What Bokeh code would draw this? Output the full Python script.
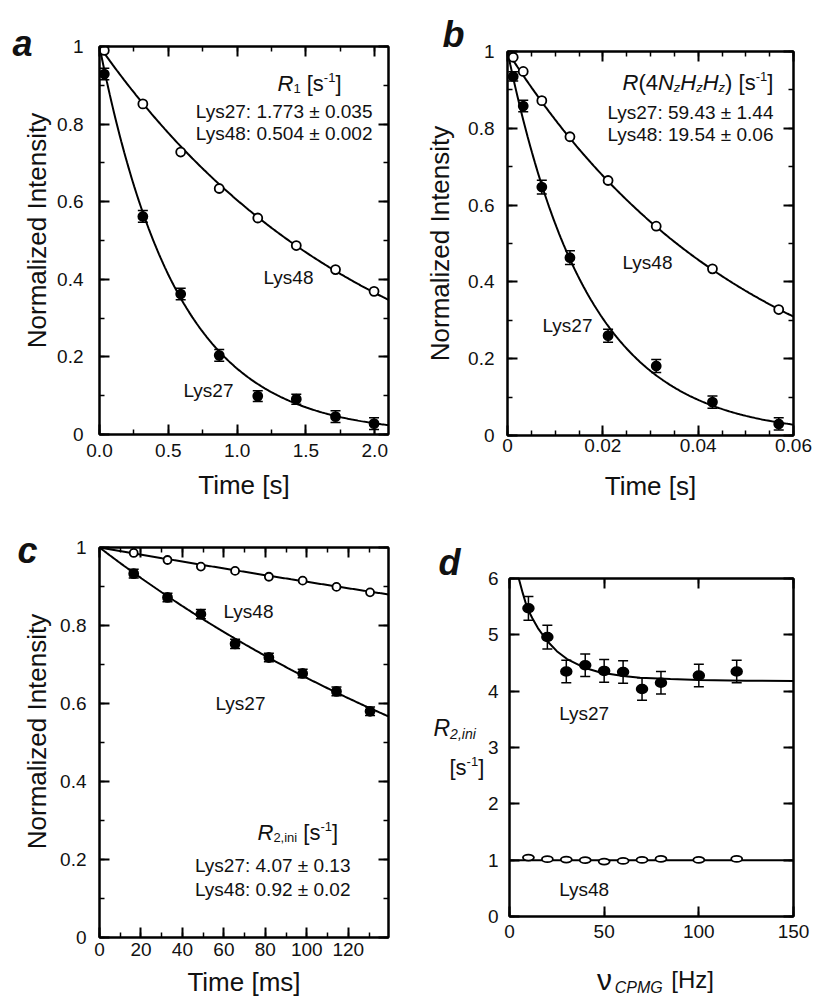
import math
import numpy as np
from bokeh.plotting import figure
from bokeh.layouts import column, row
from bokeh.models import (Range1d, LinearAxis, SingleIntervalTicker, CustomJSTickFormatter,
                          Label, Whisker, TeeHead, ColumnDataSource, Title,
                          CustomLabelingPolicy)
from bokeh.embed import file_html
from bokeh.resources import INLINE

FONT = "Liberation Sans"
INK = "#111111"

# ---------------- data ----------------
# panel a: R1 decay
a_time = [0.035, 0.315, 0.59, 0.87, 1.15, 1.43, 1.715, 1.995]
a_lys48 = [0.990, 0.852, 0.728, 0.634, 0.558, 0.487, 0.425, 0.369]
a_lys27 = [0.929, 0.562, 0.362, 0.204, 0.099, 0.091, 0.046, 0.028]
a_lys27_err = [0.015, 0.015, 0.015, 0.015, 0.014, 0.013, 0.015, 0.015]
a_rate_lys27 = 1.773
a_rate_lys48 = 0.504

# panel b: R(4NzHzHz) decay
b_time = [0.0012, 0.0033, 0.0072, 0.0131, 0.0211, 0.0312, 0.0430, 0.0569]
b_lys48 = [0.985, 0.948, 0.872, 0.778, 0.664, 0.545, 0.434, 0.328]
b_lys27 = [0.935, 0.858, 0.647, 0.463, 0.260, 0.181, 0.087, 0.030]
b_lys27_err = [0.012, 0.015, 0.018, 0.018, 0.017, 0.017, 0.016, 0.016]
b_rate_lys27 = 59.43
b_rate_lys48 = 19.54

# panel c: R2,ini decay (time in ms)
c_time = [16.5, 32.8, 48.9, 65.4, 81.7, 98.0, 114.3, 130.5]
c_lys48 = [0.986, 0.968, 0.951, 0.940, 0.925, 0.915, 0.899, 0.885]
c_lys27 = [0.933, 0.872, 0.829, 0.753, 0.718, 0.677, 0.631, 0.580]
c_lys27_err = [0.011, 0.011, 0.012, 0.012, 0.011, 0.011, 0.011, 0.011]
c_rate_lys27 = 4.07
c_rate_lys48 = 0.92

# panel d: R2,ini vs nu_CPMG
d_nu = [10, 20, 30, 40, 50, 60, 70, 80, 100, 120]
d_lys27 = [5.47, 4.96, 4.35, 4.46, 4.36, 4.34, 4.04, 4.15, 4.28, 4.35]
d_lys27_err = [0.21, 0.21, 0.20, 0.20, 0.20, 0.20, 0.20, 0.20, 0.20, 0.20]
d_lys48 = [1.046, 1.017, 1.010, 1.000, 0.975, 0.987, 1.005, 1.022, 1.005, 1.022]
d_fit27_nu = [4.0, 4.9, 7, 9.3, 12, 15, 19.9, 25, 30.4, 40, 48, 60, 69, 85, 100, 125, 150]
d_fit27 = [6.13, 6.0, 5.74, 5.48, 5.30, 5.12, 4.89, 4.71, 4.57, 4.41, 4.33, 4.27, 4.24, 4.215, 4.20, 4.185, 4.18]
d_fit48_nu = [0, 150]
d_fit48 = [1.0, 1.0]

# ---------------- layout helpers ----------------
WIDTHS = {' ': 278, '(': 333, ')': 333, '[': 278, ']': 278, '-': 333, ',': 278, '.': 278,
          ':': 278, '±': 584, 'R': 722, 'N': 722, 'H': 722, 'z': 500, 's': 500, 'i': 222,
          'n': 556, 'C': 722, 'P': 667, 'M': 833, 'G': 778, 'ν': 500, 'L': 556, 'y': 500}


def text_w(s, size):
    return sum(WIDTHS.get(ch, 556) for ch in s) * size / 1000.0


class Panel:
    """A figure whose frame sits at page pixels (L, T, W, H); helpers map page px to data."""

    def __init__(self, fx, fy, fw, fh, L, T, W, H, xr, yr, axes=True):
        self.L, self.T, self.W, self.H = L, T, W, H
        self.xr, self.yr = xr, yr
        kw = {}
        if not axes:
            kw = dict(x_axis_type=None, y_axis_type=None)
        self.p = figure(width=fw, height=fh, title=None, min_border=0,
                        min_border_left=L - fx, min_border_right=fx + fw - (L + W),
                        min_border_top=T - fy, min_border_bottom=fy + fh - (T + H),
                        x_range=Range1d(*xr), y_range=Range1d(*yr),
                        output_backend="svg", toolbar_location=None, **kw)
        p = self.p
        p.grid.visible = False
        if axes:
            p.outline_line_color = "black"
            p.outline_line_width = 2
        else:
            p.outline_line_color = None
        p.background_fill_color = "white"
        p.border_fill_color = "white"

    def px(self, x):
        return self.xr[0] + (x - self.L) / self.W * (self.xr[1] - self.xr[0])

    def py(self, y):
        return self.yr[1] - (y - self.T) / self.H * (self.yr[1] - self.yr[0])

    def label(self, x, y, text, size, align="left", style="normal", angle=0.0):
        self.p.add_layout(Label(x=self.px(x), y=self.py(y), text=text, text_font=FONT,
                                text_font_size=f"{size}px", text_font_style=style,
                                text_align=align, text_baseline="alphabetic",
                                text_color=INK, angle=angle))

    def rich(self, x, y, pieces):
        cx = x
        for text, size, italic, dy in pieces:
            lead = len(text) - len(text.lstrip(" "))
            cx += text_w(" " * lead, size)
            text = text.lstrip(" ")
            self.label(cx, y + dy, text, size, style="italic" if italic else "normal")
            cx += text_w(text, size)

    def letter(self, text, x, standoff=-14):
        # panel letter in the border above the frame
        self.p.add_layout(Title(text=text, align="left", offset=x - self.L - 5, standoff=standoff,
                                text_font=FONT, text_font_size="36px",
                                text_font_style="bold italic", text_color=INK), "above")


def fmt(kind):
    if kind == "unit":
        code = "if (Math.abs(tick) < 1e-9) return '0'; if (Math.abs(tick - 1) < 1e-9) return '1'; return tick.toFixed(1);"
    elif kind == "f1":
        code = "return tick.toFixed(1);"
    elif kind == "f2":
        code = "if (Math.abs(tick) < 1e-9) return '0'; return tick.toFixed(2);"
    else:
        code = "return Math.round(tick).toString();"
    return CustomJSTickFormatter(code=code)


def style_axis(ax, interval, minor, kind, standoff, show=True):
    ax.ticker = SingleIntervalTicker(interval=interval, num_minor_ticks=minor)
    ax.formatter = fmt(kind)
    ax.axis_line_width = 2
    ax.axis_line_color = "black"
    ax.major_tick_in = 10
    ax.major_tick_out = 0
    ax.minor_tick_in = 5
    ax.minor_tick_out = 0
    ax.major_tick_line_width = 2
    ax.minor_tick_line_width = 1.5
    ax.major_tick_line_color = "black"
    ax.minor_tick_line_color = "black"
    ax.major_label_text_font = FONT
    ax.major_label_text_color = INK
    if show:
        ax.major_label_text_font_size = "19px"
        ax.major_label_standoff = standoff
    else:
        ax.major_label_text_font_size = "1px"
        ax.major_label_standoff = 0
        ax.major_label_policy = CustomLabelingPolicy(code="return new Set()")
    ax.axis_label_text_font = FONT
    ax.axis_label_text_font_size = "26px"
    ax.axis_label_text_font_style = "normal"
    ax.axis_label_text_color = INK


def setup_axes(pn, xint, xminor, xkind, xstand, yint, yminor, ykind, ystand,
               xlabel, xlab_standoff, ylabel, ylab_standoff):
    p = pn.p
    style_axis(p.xaxis[0], xint, xminor, xkind, xstand)
    style_axis(p.yaxis[0], yint, yminor, ykind, ystand)
    p.xaxis[0].axis_label = xlabel
    p.xaxis[0].axis_label_standoff = xlab_standoff
    p.yaxis[0].axis_label = ylabel
    p.yaxis[0].axis_label_standoff = ylab_standoff
    top = LinearAxis()
    right = LinearAxis()
    p.add_layout(top, "above")
    p.add_layout(right, "right")
    style_axis(top, xint, xminor, xkind, 0, show=False)
    style_axis(right, yint, yminor, ykind, 0, show=False)


def errorbars(p, x, y, err):
    src = ColumnDataSource(dict(x=x, lower=[v - e for v, e in zip(y, err)],
                                upper=[v + e for v, e in zip(y, err)]))
    p.add_layout(Whisker(source=src, base="x", lower="lower", upper="upper",
                         line_color="black", line_width=1.5,
                         upper_head=TeeHead(size=10, line_width=1.5, line_color="black"),
                         lower_head=TeeHead(size=10, line_width=1.5, line_color="black")))


def markers(p, x, y, filled, size=9):
    p.scatter(x, y, marker="circle", size=size,
              fill_color="black" if filled else "white",
              line_color="black", line_width=1.8)


def strip(fx, fy, fw, fh):
    # text-only strip: its frame fills the figure and data units are page pixels
    return Panel(fx, fy, fw, fh, fx, fy, fw, fh, (fx, fx + fw), (fy + fh, fy), axes=False)


# ---------------- panel a ----------------
AL = strip(0, 0, 52, 505)
AL.label(12, 43, "a", 36, style="bold italic")
AL.label(36, 230, "Normalized Intensity", 26, align="center", angle=math.pi / 2)

A = Panel(52, 0, 354, 505, 99, 46, 289, 388, (0, 2.1), (0, 1))
setup_axes(A, 0.5, 2, "f1", 9, 0.2, 2, "unit", 16, "Time [s]", 10, None, 10)
ta = np.linspace(0, 2.1, 200)
A.p.line(ta, np.exp(-a_rate_lys48 * ta), line_color="black", line_width=2)
A.p.line(ta, np.exp(-a_rate_lys27 * ta), line_color="black", line_width=2)
errorbars(A.p, a_time, a_lys27, a_lys27_err)
markers(A.p, a_time, a_lys27, True)
markers(A.p, a_time, a_lys48, False)
A.rich(277, 83, [("R", 22, True, 0), ("1", 13, False, 5), (" [s", 22, False, 0),
                 ("-1", 13, False, -6), ("]", 22, False, 0)])
A.label(372, 111, f"Lys27: {a_rate_lys27:.3f} ± 0.035", 19, align="right")
A.label(372, 133, f"Lys48: {a_rate_lys48:.3f} ± 0.002", 19, align="right")
A.label(263, 277, "Lys48", 19)
A.label(183, 390, "Lys27", 19)

# ---------------- panel b ----------------
B = Panel(406, 0, 406, 505, 507, 51, 286, 384, (0, 0.06), (0, 1))
setup_axes(B, 0.02, 4, "f2", 3, 0.2, 2, "unit", 13, "Time [s]", 16, "Normalized Intensity", 10)
tb = np.linspace(0, 0.06, 200)
B.p.line(tb, np.exp(-b_rate_lys48 * tb), line_color="black", line_width=2)
B.p.line(tb, np.exp(-b_rate_lys27 * tb), line_color="black", line_width=2)
errorbars(B.p, b_time, b_lys27, b_lys27_err)
markers(B.p, b_time, b_lys27, True)
markers(B.p, b_time, b_lys48, False)
B.letter("b", 447)
B.rich(622, 82, [("R", 22, True, 0), ("(4", 22, False, 0), ("N", 22, True, 0), ("z", 13, True, 5),
                 ("H", 22, True, 0), ("z", 13, True, 5), ("H", 22, True, 0), ("z", 13, True, 5),
                 (")", 22, False, 0), (" [s", 22, False, 0), ("-1", 13, False, -6),
                 ("]", 22, False, 0)])
B.label(773, 112, f"Lys27: {b_rate_lys27:.2f} ± 1.44", 19, align="right")
B.label(773, 134, f"Lys48: {b_rate_lys48:.2f} ± 0.06", 19, align="right")
B.label(622, 262, "Lys48", 19)
B.label(542, 325, "Lys27", 19)

# ---------------- panel c ----------------
CL = strip(0, 505, 52, 505)
CL.label(17, 550, "c", 36, style="bold italic")
CL.label(36, 731, "Normalized Intensity", 26, align="center", angle=math.pi / 2)

C = Panel(52, 505, 354, 505, 99, 547, 289, 390, (0, 139.4), (0, 1))
setup_axes(C, 20, 2, "int", 5, 0.2, 2, "unit", 13, "Time [ms]", 8, None, 14)
tc = np.linspace(0, 139.4, 200)
C.p.line(tc, np.exp(-c_rate_lys48 * tc / 1000.0), line_color="black", line_width=2)
C.p.line(tc, np.exp(-c_rate_lys27 * tc / 1000.0), line_color="black", line_width=2)
errorbars(C.p, c_time, c_lys27, c_lys27_err)
markers(C.p, c_time, c_lys27, True)
markers(C.p, c_time, c_lys48, False, size=8)
C.rich(257, 832, [("R", 22, True, 0), ("2,ini", 13, False, 5), (" [s", 22, False, 0),
                  ("-1", 13, False, -6), ("]", 22, False, 0)])
C.label(350, 865, f"Lys27: {c_rate_lys27:.2f} ± 0.13", 19, align="right")
C.label(350, 889, f"Lys48: {c_rate_lys48:.2f} ± 0.02", 19, align="right")
C.label(223, 611, "Lys48", 19)
C.label(215, 703, "Lys27", 19)

# ---------------- panel d ----------------
D = Panel(484, 505, 328, 445, 507, 578, 286, 338, (0, 150), (0, 6))
setup_axes(D, 50, 1, "int", 8, 1, 1, "int", 11, None, 5, None, 5)
D.p.line(d_fit48_nu, d_fit48, line_color="black", line_width=2)
D.p.line(d_fit27_nu, d_fit27, line_color="black", line_width=2)
errorbars(D.p, d_nu, d_lys27, d_lys27_err)
D.p.ellipse(d_nu, d_lys27, width=11, height=9, width_units="screen", height_units="screen",
            fill_color="black", line_color="black", line_width=1.5)
D.p.ellipse(d_nu, d_lys48, width=11, height=6, width_units="screen", height_units="screen",
            fill_color="white", line_color="black", line_width=1.8)
D.label(557, 713, "Lys27", 19)
D.label(557, 889, "Lys48", 19)

# strip left of panel d: panel letter and y-axis title
DL = strip(406, 505, 78, 505)
DL.label(438, 562, "d", 36, style="bold italic")
DL.rich(433, 727, [("R", 23, True, 0), ("2,ini", 14, True, 6)])
DL.rich(449, 767, [("[s", 22, False, 0), ("-1", 13, False, -6), ("]", 22, False, 0)])

# strip below panel d: x-axis title
DB = Panel(484, 950, 328, 60, 507, 950, 286, 60, (0, 150), (1010, 950), axes=False)
DB.rich(595, 979, [("ν", 30, False, 0)])
DB.rich(613, 987, [("CPMG", 16, True, 0)])
DB.rich(670, 979, [("[Hz]", 24, False, 0)])

# plots are wrapped in their own columns so that the text strips keep full-height frames
layout = row(column(row(AL.p, column(A.p)), row(CL.p, column(C.p))),
             column(B.p, row(DL.p, column(D.p, DB.p))))
open("out.html", "w").write(file_html(layout, INLINE))
